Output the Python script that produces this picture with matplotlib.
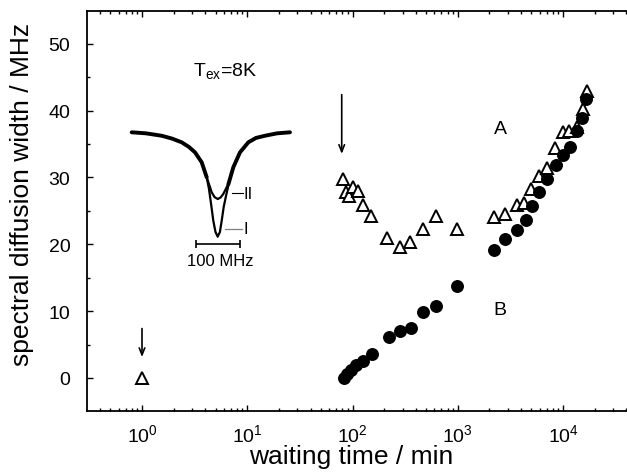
import matplotlib
matplotlib.use("Agg")
import matplotlib.pyplot as plt
from matplotlib.ticker import LogLocator, LogFormatterMathtext, MultipleLocator, NullFormatter

plt.rcParams['font.family'] = ['Liberation Sans', 'DejaVu Sans']
plt.rcParams['mathtext.default'] = 'regular'

# ---- data ----
tA = [1.0, 82, 87, 93, 100, 112, 127, 150, 211, 283, 352, 464, 621, 991,
      2209, 2829, 3631, 4260, 4930, 5870, 7100, 8450, 10070, 11480, 13490, 15380, 16790]
wA = [0.0, 29.8, 27.8, 27.2, 28.5, 28.0, 25.9, 24.3, 20.9, 19.6, 20.4, 22.3, 24.3, 22.3,
      24.1, 24.5, 25.8, 26.2, 28.3, 30.2, 31.4, 34.4, 36.8, 37.0, 37.5, 40.3, 43.0]

tB = [83, 89, 96, 108, 125, 152, 224, 283, 357, 464, 621, 991,
      2209, 2829, 3631, 4420, 5080, 5970, 7100, 8570, 10070, 11660, 13490, 15170, 16560]
wB = [0.0, 0.6, 1.2, 2.0, 2.6, 3.6, 6.1, 7.0, 7.5, 9.8, 10.8, 13.7,
      19.2, 20.8, 22.1, 23.7, 25.7, 27.8, 29.8, 31.9, 33.4, 34.5, 36.9, 38.9, 41.7]

# inset spectra (frequency offset / MHz, relative signal)
f_wing_l = [-195.5, -163, -127.3, -104, -81.8, -65.2, -51.6, -36.4, -25.0]
s_wing_l = [1.0, 0.99, 0.967, 0.94, 0.904, 0.859, 0.808, 0.713, 0.569]
f_II = [-25.0, -13.6, -7.3, 0.0, 6.4, 12.7, 24.1]
s_II = [0.569, 0.425, 0.38, 0.361, 0.375, 0.409, 0.505]
f_I = [-25.0, -19.8, -14.1, -10.0, -5.0, 0.0, 5.0, 9.1, 13.6, 18.2, 24.1]
s_I = [0.569, 0.457, 0.284, 0.153, 0.045, 0.0, 0.045, 0.153, 0.284, 0.377, 0.489]
f_wing_r = [24.1, 35.5, 50.7, 69.6, 87, 107.5, 134.8, 164.3]
s_wing_r = [0.5, 0.665, 0.808, 0.904, 0.946, 0.967, 0.99, 1.0]

W, H = 627, 477
fig = plt.figure(figsize=(W / 100, H / 100), dpi=100)
ax = fig.add_axes([87 / W, 1 - 412 / H, 1 - 87 / W, 400 / H])

ax.plot(tA, wA, linestyle='none', marker='^', ms=8.3, mfc='white', mec='black', mew=1.4)
ax.plot(tB, wB, linestyle='none', marker='o', ms=8.3, mfc='black', mec='black')

ax.set_xscale('log')
ax.set_xlim(10 ** ((87 - 142) / 105.25), 10 ** ((627 - 142) / 105.25))
ax.set_ylim(-4.95, 54.9)

ax.xaxis.set_major_locator(LogLocator(base=10, numticks=10))
ax.xaxis.set_minor_locator(LogLocator(base=10, subs=range(2, 10), numticks=20))
ax.xaxis.set_major_formatter(LogFormatterMathtext())
ax.xaxis.set_minor_formatter(NullFormatter())
ax.yaxis.set_major_locator(MultipleLocator(10))
ax.yaxis.set_minor_locator(MultipleLocator(5))

ax.tick_params(which='both', direction='in', top=True, right=False, width=1.0)
ax.tick_params(which='major', length=4.5, labelsize=14)
ax.tick_params(axis='x', which='major', pad=9)
ax.tick_params(axis='y', which='major', pad=12)
ax.tick_params(which='minor', length=2.5)
ax.spines['right'].set_visible(False)
for s in ['left', 'bottom', 'top']:
    ax.spines[s].set_linewidth(1.3)

ax.set_xlabel('waiting time / min', fontsize=19)
ax.set_ylabel('spectral diffusion width / MHz', fontsize=19)
ax.xaxis.set_label_coords(0.49, -0.083)
ax.yaxis.set_label_coords(-0.098, 0.545)

# arrows
ax.annotate('', xy=(79, 33.1), xytext=(79, 42.8),
            arrowprops=dict(arrowstyle='->,head_length=0.5,head_width=0.2', lw=1.2, color='black'))
ax.annotate('', xy=(1.0, 2.7), xytext=(1.0, 7.8),
            arrowprops=dict(arrowstyle='->,head_length=0.5,head_width=0.2', lw=1.2, color='black'))

ax.text(2520, 37.3, 'A', fontsize=14, ha='center', va='center')
ax.text(2520, 10.3, 'B', fontsize=14, ha='center', va='center')
ax.text(6.2, 46.0, r'T$_{ex}$=8K', fontsize=14, ha='center', va='center')

# inset
axi = fig.add_axes([120 / W, 1 - 275 / H, 180 / W, 155 / H])
axi.set_xlim((120 - 217.7) * 2.273, (300 - 217.7) * 2.273)
axi.set_ylim((237.7 - 275) / 104.4, (237.7 - 120) / 104.4)
axi.axis('off')
for f, s in [(f_wing_l, s_wing_l), (f_wing_r, s_wing_r)]:
    axi.plot(f, s, color='black', lw=2.8, solid_joinstyle='round', solid_capstyle='round')
for f, s in [(f_II, s_II), (f_I, s_I)]:
    axi.plot(f, s, color='black', lw=1.6, solid_joinstyle='round', solid_capstyle='round')
axi.plot([31.8, 58.2], [0.416, 0.416], color='black', lw=0.8)
axi.plot([16.6, 54.5], [0.074, 0.074], color='gray', lw=0.9)
axi.text(58.6, 0.416, 'II', fontsize=12, ha='left', va='center')
axi.text(58.6, 0.074, 'I', fontsize=12, ha='left', va='center')
axi.errorbar([0.7], [-0.07], xerr=[[50], [50]], color='black', lw=1.2, capsize=3, capthick=1.2)
axi.text(5, -0.225, '100 MHz', fontsize=12, ha='center', va='center')

fig.savefig('out.png', dpi=100)
